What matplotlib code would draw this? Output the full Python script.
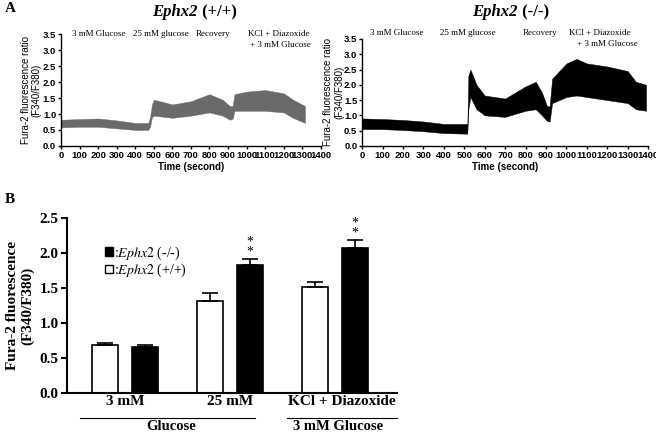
import matplotlib
matplotlib.use("Agg")
import matplotlib.pyplot as plt
from matplotlib.patches import Patch
import matplotlib.transforms as mtransforms

plt.rcParams['mathtext.fontset'] = 'stix'
SERIF = 'Liberation Serif'
SANS = 'Liberation Sans'

# ---- panel A: calcium traces, band (time s, low, high)
wt_t    = [0, 100, 200, 300, 400, 470, 480, 490, 500, 600, 700, 800, 870, 910, 925, 935, 1000, 1100, 1200, 1250, 1315]
wt_low  = [0.58, 0.6, 0.6, 0.55, 0.5, 0.5, 0.6, 0.9, 0.95, 0.88, 0.95, 1.05, 0.95, 0.82, 0.85, 1.1, 1.1, 1.1, 1.05, 0.88, 0.72]
wt_high = [0.82, 0.84, 0.86, 0.8, 0.72, 0.72, 0.9, 1.3, 1.45, 1.3, 1.4, 1.62, 1.45, 1.25, 1.25, 1.62, 1.7, 1.75, 1.65, 1.45, 1.25]

ko_t    = [0, 100, 200, 300, 400, 515, 520, 530, 560, 600, 700, 800, 850, 880, 905, 918, 930, 1000, 1050, 1100, 1200, 1300, 1340, 1390]
ko_low  = [0.55, 0.55, 0.52, 0.48, 0.42, 0.4, 1.2, 1.6, 1.2, 1.0, 0.95, 1.15, 1.2, 1.0, 0.82, 0.8, 1.4, 1.6, 1.65, 1.6, 1.5, 1.4, 1.2, 1.15]
ko_high = [0.9, 0.88, 0.85, 0.8, 0.72, 0.72, 2.3, 2.5, 2.0, 1.65, 1.55, 1.95, 2.1, 1.75, 1.3, 1.3, 2.2, 2.7, 2.85, 2.7, 2.6, 2.45, 2.1, 2.0]

# ---- panel B: mean ratio per condition
groups = ['3 mM', '25 mM', 'KCl + Diazoxide']
wt_mean = [0.69, 1.32, 1.51]
wt_err = [0.03, 0.11, 0.07]
ko_mean = [0.66, 1.83, 2.07]
ko_err = [0.02, 0.08, 0.11]

fig = plt.figure(figsize=(6.56, 4.33), dpi=100)


def trace_axes(rect, t, lo, hi, color, notes, ylab_x):
    ax = fig.add_axes(rect)
    ax.fill_between(t, lo, hi, color=color, lw=0.3, edgecolor=color)
    ax.set_xlim(0, 1400)
    ax.set_ylim(0, 3.5)
    ax.set_xticks(range(0, 1401, 100))
    ax.set_yticks([0, 0.5, 1.0, 1.5, 2.0, 2.5, 3.0, 3.5])
    ax.set_yticklabels(['0.0', '0.5', '1.0', '1.5', '2.0', '2.5', '3.0', '3.5'])
    for s in ['top', 'right']:
        ax.spines[s].set_visible(False)
    for s in ['left', 'bottom']:
        ax.spines[s].set_linewidth(1.0)
    ax.tick_params(direction='out', length=2.5, width=1.0, pad=1, labelsize=6.8)
    for lab in ax.get_xticklabels() + ax.get_yticklabels():
        lab.set_fontfamily(SANS)
        lab.set_fontweight('bold')
    ax.set_xlabel('Time (second)', fontfamily=SANS, fontweight='bold', fontsize=7, labelpad=1.5)
    ax.set_ylabel('Fura-2 fluorescence ratio\n(F340/F380)', fontfamily=SANS, fontsize=7,
                  linespacing=1.1)
    ax.yaxis.set_label_coords(ylab_x, 0.5)
    for x, y, s in notes:
        ax.text(x, y, s, ha='center', va='center', fontfamily=SERIF, fontsize=6.5, clip_on=False)
    return ax


trace_axes([0.093, 0.663, 0.396, 0.258], wt_t, wt_low, wt_high, '#6a6a6a',
           [(205, 3.5, '3 mM Glucose'), (540, 3.5, '25 mM glucose'), (820, 3.5, 'Recovery'),
            (1175, 3.5, 'KCl + Diazoxide'), (1180, 3.16, '+ 3 mM Glucose')], -0.075)
trace_axes([0.552, 0.663, 0.436, 0.247], ko_t, ko_low, ko_high, 'black',
           [(171, 3.7, '3 mM Glucose'), (519, 3.7, '25 mM glucose'), (871, 3.7, 'Recovery'),
            (1165, 3.7, 'KCl + Diazoxide'), (1200, 3.34, '+ 3 mM Glucose')], -0.063)

# titles: italic gene name + genotype
for xc, geno in [(198 / 656, ' (+/+)'), (518 / 656, ' (-/-)')]:
    fig.text(xc, 1 - 12 / 433, 'Ephx2', ha='right', va='center', fontfamily=SERIF,
             fontweight='bold', fontstyle='italic', fontsize=12)
    fig.text(xc, 1 - 12 / 433, geno, ha='left', va='center', fontfamily=SERIF,
             fontweight='bold', fontsize=12)

fig.text(5 / 656, 1 - 9 / 433, 'A', fontfamily=SERIF, fontweight='bold', fontsize=11, va='center')
fig.text(5 / 656, 1 - 200 / 433, 'B', fontfamily=SERIF, fontweight='bold', fontsize=11, va='center')

# ---- bar chart
ax = fig.add_axes([0.102, 0.0924, 0.503, 0.4041])
pos = [0, 1, 2]
off, w = 0.19, 0.25
ax.bar([p - off for p in pos], wt_mean, w, color='white', edgecolor='black', lw=1.2,
       yerr=[[0, 0, 0], wt_err], capsize=5.5, error_kw=dict(elinewidth=1.2, capthick=1.2))
ax.bar([p + off for p in pos], ko_mean, w, color='black', edgecolor='black', lw=1.2,
       yerr=[[0, 0, 0], ko_err], capsize=5.5, error_kw=dict(elinewidth=1.2, capthick=1.2))
ax.set_xlim(-0.552, 2.59)
ax.set_ylim(0, 2.5)
ax.set_yticks([0, 0.5, 1.0, 1.5, 2.0, 2.5])
ax.set_yticklabels(['0.0', '0.5', '1.0', '1.5', '2.0', '2.5'])
ax.set_xticks([])
for s in ['top', 'right']:
    ax.spines[s].set_visible(False)
for s in ['left', 'bottom']:
    ax.spines[s].set_linewidth(1.5)
ax.tick_params(axis='y', direction='out', length=4, width=1.5, pad=2, labelsize=11)
for lab in ax.get_yticklabels():
    lab.set_fontfamily(SERIF)
    lab.set_fontweight('bold')
ax.set_ylabel('Fura-2 fluorescence\n(F340/F380)', fontfamily=SERIF, fontweight='bold',
              fontsize=11, linespacing=1.1)
ax.yaxis.set_label_coords(-0.1, 0.5)

# stars over knockout bars
for p, m, e in [(1, ko_mean[1], ko_err[1]), (2, ko_mean[2], ko_err[2])]:
    ax.text(p + off, m + e + 0.1, '*', ha='center', va='center', fontfamily=SERIF, fontsize=10)
    ax.text(p + off, m + e + 0.25, '*', ha='center', va='center', fontfamily=SERIF, fontsize=10)

trans = mtransforms.blended_transform_factory(ax.transData, ax.transAxes)
label_x = [0, 1, 2.07]
for x, g in zip(label_x, groups):
    ax.text(x, -0.046, g, transform=trans, ha='center', va='center', fontfamily=SERIF,
            fontweight='bold', fontsize=11, clip_on=False)
ax.plot([-0.43, 1.24], [-0.143, -0.143], transform=trans, color='black', lw=0.8, clip_on=False)
ax.plot([1.54, 2.59], [-0.143, -0.143], transform=trans, color='black', lw=0.8, clip_on=False)
ax.text(0.44, -0.192, 'Glucose', transform=trans, ha='center', va='center', fontfamily=SERIF,
        fontweight='bold', fontsize=10.5, clip_on=False)
ax.text(2.03, -0.192, '3 mM Glucose', transform=trans, ha='center', va='center', fontfamily=SERIF,
        fontweight='bold', fontsize=10.5, clip_on=False)

handles = [Patch(facecolor='black', edgecolor='black'),
           Patch(facecolor='white', edgecolor='black')]
leg = ax.legend(handles, [r':$\mathit{Ephx2}$ (-/-)', r':$\mathit{Ephx2}$ (+/+)'],
                loc='upper left', bbox_to_anchor=(0.094, 0.89), frameon=False,
                prop=dict(family=SERIF, size=10), handlelength=0.55, handleheight=0.55,
                handletextpad=0.1, labelspacing=0.0, borderpad=0)

fig.savefig('out.png', dpi=100)
